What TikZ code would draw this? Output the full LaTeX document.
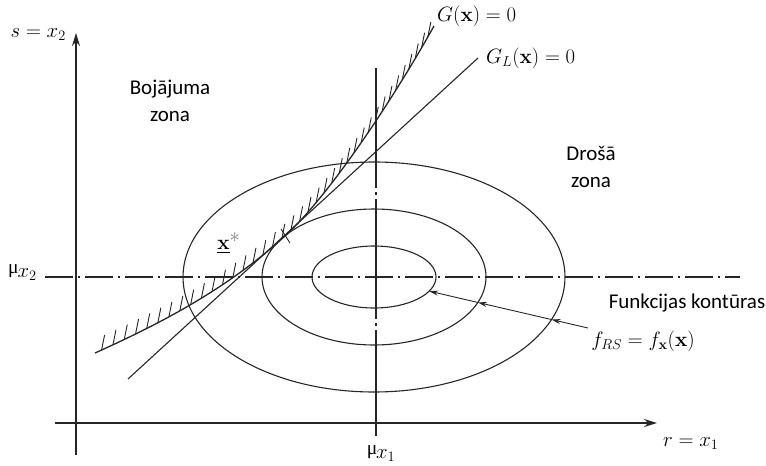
\documentclass[tikz,border=0pt]{standalone}
\usepackage{amsmath,amssymb}
\usepackage[no-math]{fontspec}
\setmainfont{Carlito}
\newfontfamily\tms{Liberation Serif}
\usepackage{tikz}
\usetikzlibrary{arrows.meta, decorations.markings, intersections}

\begin{document}
\begin{tikzpicture}[
  x=1pt, y=-1pt,
  line/.style={draw=black!85, line width=1.1pt},
  axis/.style={draw=black!85, line width=1.7pt, -{Stealth[length=13pt,width=8pt]}},
  centerline/.style={line, line width=1.4pt, dash pattern=on 28pt off 5pt on 2pt off 5pt},
  vcenterline/.style={line, line width=1.4pt, dash pattern=on 120pt off 4pt on 3pt off 4pt},
  hatch/.style={draw=black!85, line width=0.9pt},
  tip/.style={line, line width=0.9pt, -{Stealth[length=9pt,width=5pt]}},
  zone/.style={font=\fontsize{21}{26.5}\selectfont, align=center, inner sep=0pt},
  mlabel/.style={font=\fontsize{19.5}{23}\selectfont, inner sep=0pt}
]
\useasboundingbox (0,0) rectangle (766,466);

% axes
\coordinate (ybot) at (76,455);
\coordinate (ytop) at (76,33);
\coordinate (xleft) at (55,423);
\coordinate (xright) at (657,423);
\draw[axis] (ybot) -- (ytop);
\draw[axis] (xleft) -- (xright);

% centre lines
\coordinate (mu2l) at (45,277);
\coordinate (mu2r) at (740,277);
\coordinate (mu1t) at (376,68);
\coordinate (mu1b) at (376,436);
\draw[centerline] (mu2l) -- (mu2r);
\draw[vcenterline] (mu1t) -- (mu1b);

% contours
\coordinate (c) at (374,277);
\draw[line, name path=inner] (c) ellipse [x radius=62pt, y radius=31pt];
\draw[line, name path=middle] (c) ellipse [x radius=112pt, y radius=68pt];
\draw[line, name path=outer] (c) ellipse [x radius=191pt, y radius=115pt];

% limit state surface and its linearization
\coordinate (ga) at (95,353);
\coordinate (xs) at (285,236);
\coordinate (gb) at (434,26);
\coordinate (gla) at (128,379);
\coordinate (glb) at (478,58);
\draw[line, line width=1.3pt, postaction={decorate},
  decoration={markings,
    mark=between positions 0.015 and 0.995 step 12.5pt with
    {\pgftransformresetnontranslations \draw[hatch] (0pt,0pt) -- (3pt,15pt);}}]
  (ga) .. controls (155,326) and (225,291) .. (xs)
       .. controls (335,190) and (403,82) .. (gb);
\draw[line] (gla) -- (glb);
\draw[hatch] (281,229) -- (290,243);

% labels
\node[mlabel, anchor=base east] (sx) at (66,37) {$s = x_2$};
\node[mlabel, anchor=base west] (rx) at (663,446) {$r = x_1$};
\node[mlabel, anchor=base west] (mu2) at (8,273) {\tms μ\raisebox{-4pt}{$\mkern-1mu x_2$}};
\node[mlabel, anchor=base] (mu1) at (381,454) {\tms μ\raisebox{-4pt}{$\mkern-1mu x_1$}};
\node[mlabel, anchor=west] (gl) at (437,16) {$G(\mathbf{x}) = 0$};
\node[mlabel, anchor=west] (gll) at (486,58) {$G_L(\mathbf{x}) = 0$};
\node[mlabel] (xstar) at (229,243) {$\underline{\mathbf{x}}^{\textcolor{black!50}{\textstyle *}}$};
\node[zone] (fail) at (170,101) {Bojājuma\\zona};
\node[zone] (safe) at (591,167) {Drošā\\zona};
\node[zone] (cont) at (687,303) {Funkcijas kontūras};
\node[mlabel] (frs) at (643,341) {$f_{RS} = f_{\mathbf{x}}(\mathbf{x})$};

% contour pointer
\coordinate (fs) at (588,328);
\coordinate (fe) at (420,289);
\path[name path=ray] (fs) -- (fe);
\path[name intersections={of=outer and ray, by=po}];
\path[name intersections={of=middle and ray, by=pm}];
\path[name intersections={of=inner and ray, by=pi}];
\draw[tip] (fs) -- (po);
\draw[tip] (po) -- (pm);
\draw[tip] (pm) -- (pi);
\end{tikzpicture}
\end{document}
